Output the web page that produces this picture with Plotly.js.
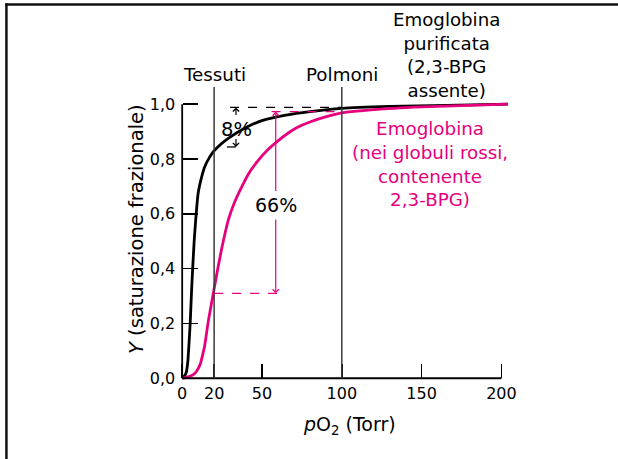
<!DOCTYPE html>
<html>
<head>
<meta charset="utf-8">
<script src="https://cdn.plot.ly/plotly-3.0.1.min.js"></script>
<style>
  html, body { margin: 0; padding: 0; background: #fff; }
  #chart { width: 618px; height: 459px; }
</style>
</head>
<body>
<div id="chart"></div>
<script>
// ---- Data ----
// Purified hemoglobin (no 2,3-BPG) - black curve
const purifiedPO2 = [0, 1, 2.5, 3.5, 4.2, 5, 6, 7.5, 8.5, 10, 12, 14, 17, 20, 25, 30, 40, 50, 65, 80, 100, 130, 165, 204];
const purifiedY   = [0, 0.005, 0.02, 0.06, 0.12, 0.2, 0.335, 0.5, 0.58, 0.675, 0.73, 0.77, 0.805, 0.83, 0.858, 0.88, 0.915, 0.94, 0.96, 0.973, 0.985, 0.992, 0.996, 1.0];
// Hemoglobin in red blood cells (with 2,3-BPG) - magenta curve
const rbcPO2 = [0, 3, 6, 8, 10, 11.5, 13, 14, 16.5, 19.5, 22, 25, 29, 33, 37, 42, 47, 53, 60, 66, 72, 80, 92, 100, 120, 150, 180, 204];
const rbcY   = [0, 0.004, 0.01, 0.018, 0.035, 0.055, 0.09, 0.116, 0.213, 0.31, 0.39, 0.48, 0.58, 0.645, 0.695, 0.75, 0.79, 0.83, 0.866, 0.893, 0.915, 0.935, 0.957, 0.968, 0.98, 0.99, 0.996, 1.0];

// Reference pressures and saturation levels
const tissuePO2 = 20;
const lungPO2 = 100;
const purifiedLungY = 0.988;
const purifiedTissueY = 0.844;
const rbcLungY = 0.973;
const rbcTissueY = 0.31;
const deltaPurified = "8%";
const deltaRBC = "66%";

// Axis ticks
const xTickVals = [0, 20, 50, 100, 150, 200];
const xTickText = ["0", "20", "50", "100", "150", "200"];
const yTickVals = [0, 0.2, 0.4, 0.6, 0.8, 1.0];
const yTickText = ["0,0", "0,2", "0,4", "0,6", "0,8", "1,0"];

// Labels
const tissueLabel = "Tessuti";
const lungLabel = "Polmoni";
const purifiedLabel = "Emoglobina<br>purificata<br>(2,3-BPG<br>assente)";
const rbcLabel = "Emoglobina<br>(nei globuli rossi,<br>contenente<br>2,3-BPG)";
const xTitle = "<i>p</i>O<sub>2</sub> (Torr)";
const yTitle = "<i>Y</i> (saturazione frazionale)";

// ---- Styles ----
const PINK = "#e6007e";
const FONT = "DejaVu Sans, Open Sans, sans-serif";

const traces = [
  { x: purifiedPO2, y: purifiedY, type: "scatter", mode: "lines",
    line: { color: "#000", width: 2.8, shape: "spline", smoothing: 0.6 }, hoverinfo: "skip" },
  { x: rbcPO2, y: rbcY, type: "scatter", mode: "lines",
    line: { color: PINK, width: 2.8, shape: "spline", smoothing: 0.6 }, hoverinfo: "skip" }
];

const xMax = xTickVals[xTickVals.length - 1];
const yMax = yTickVals[yTickVals.length - 1];
const markerTop = 1.063;
const yLo = -0.01, yHi = 1.07;
const toPaperY = v => (v - yLo) / (yHi - yLo);

function seg(x0, y0, x1, y1, color, width, dash) {
  return { type: "line", xref: "x", yref: "y", x0, y0, x1, y1,
           line: { color, width, dash: dash || "solid" }, layer: "above" };
}

const shapes = [
  // axes
  seg(0, 0, 0, yMax, "#000", 1.8),
  seg(0, 0, xMax, 0, "#000", 1.8),
  // tissue / lung markers
  seg(tissuePO2, 0, tissuePO2, markerTop, "#3a3a3a", 1.5),
  seg(lungPO2, 0, lungPO2, markerTop, "#3a3a3a", 1.5),
  // dashed guides
  seg(30, purifiedLungY, lungPO2, purifiedLungY, "#000", 1.3, "dash"),
  seg(28, purifiedTissueY, 37, purifiedTissueY, "#000", 1.3, "dash"),
  seg(56, rbcLungY, lungPO2, rbcLungY, PINK, 1.3, "dash"),
  seg(tissuePO2, rbcTissueY, 62, rbcTissueY, PINK, 1.3, "dash"),
  // frame
  { type: "line", xref: "paper", yref: "paper", x0: -0.5198, x1: -0.5198, y0: 1.276, y1: -0.3,
    line: { color: "#111", width: 2.5 } },
  { type: "line", xref: "paper", yref: "paper", x0: -0.523, x1: 1.35, y0: 1.272, y1: 1.272,
    line: { color: "#111", width: 2.5 } }
];

function arrow(x, yHead, yTail, color) {
  return { x, y: yHead, ax: x, ay: yTail, xref: "x", yref: "y", axref: "x", ayref: "y",
           text: "", showarrow: true, arrowhead: 4, arrowsize: 1, arrowwidth: 1.2,
           arrowcolor: color, standoff: 0, startstandoff: 0 };
}
function label(x, y, text, color, size) {
  return { x, y, xref: "x", yref: "y", text, showarrow: false, xanchor: "center", yanchor: "middle",
           font: { family: FONT, size: size || 18, color: color || "#000" } };
}
function topLabel(x, y, text, size) {
  return { x, y: toPaperY(y), xref: "x", yref: "paper", text, showarrow: false,
           xanchor: "center", yanchor: "middle",
           font: { family: FONT, size: size || 18, color: "#000" } };
}

const annotations = [
  arrow(33.7, purifiedLungY, 0.955, "#000"),
  arrow(33.7, purifiedTissueY, 0.878, "#000"),
  arrow(58.6, rbcLungY, 0.678, PINK),
  arrow(58.6, rbcTissueY, 0.585, PINK),
  label(34, 0.906, deltaPurified, "#000", 19.5),
  label(58.9, 0.632, deltaRBC, "#000", 19),
  topLabel(tissuePO2, 1.107, tissueLabel, 18.3),
  topLabel(lungPO2, 1.107, lungLabel, 18.3),
  topLabel(165.3, 1.178, purifiedLabel, 18.2),
  label(155.3, 0.782, rbcLabel, PINK, 18.3),
  { xref: "paper", yref: "paper", x: 0, y: 0.5, xshift: -43, yshift: 4, xanchor: "center", yanchor: "middle",
    text: yTitle, textangle: -90, showarrow: false, font: { family: FONT, size: 19.5, color: "#000" } },
  { xref: "paper", yref: "paper", x: 0.5, y: 0, xshift: 4, yshift: -44, xanchor: "center", yanchor: "middle",
    text: xTitle, showarrow: false, font: { family: FONT, size: 19, color: "#000" } }
];

const layout = {
  width: 618, height: 459,
  margin: { l: 179, r: 107, t: 85, b: 78, pad: 0 },
  paper_bgcolor: "#fff", plot_bgcolor: "#fff",
  showlegend: false,
  font: { family: FONT, color: "#000" },
  xaxis: {
    range: [-2, 206], anchor: "free", position: 0.0096,
    showgrid: false, zeroline: false, showline: false,
    tickmode: "array", tickvals: xTickVals, ticktext: xTickText,
    ticks: "inside", ticklen: 14, tickwidth: 1.5, tickcolor: "#000",
    ticklabelstandoff: 4,
    tickfont: { family: FONT, size: 16, color: "#000" }
  },
  yaxis: {
    range: [yLo, yHi], anchor: "free", position: 0.0096,
    showgrid: false, zeroline: false, showline: false,
    tickmode: "array", tickvals: yTickVals, ticktext: yTickText,
    ticks: "inside", ticklen: 15, tickwidth: 1.5, tickcolor: "#000",
    ticklabelstandoff: 7,
    tickfont: { family: FONT, size: 16, color: "#000" }
  },
  shapes, annotations
};

Plotly.newPlot("chart", traces, layout, { displayModeBar: false, staticPlot: true });
</script>
</body>
</html>
